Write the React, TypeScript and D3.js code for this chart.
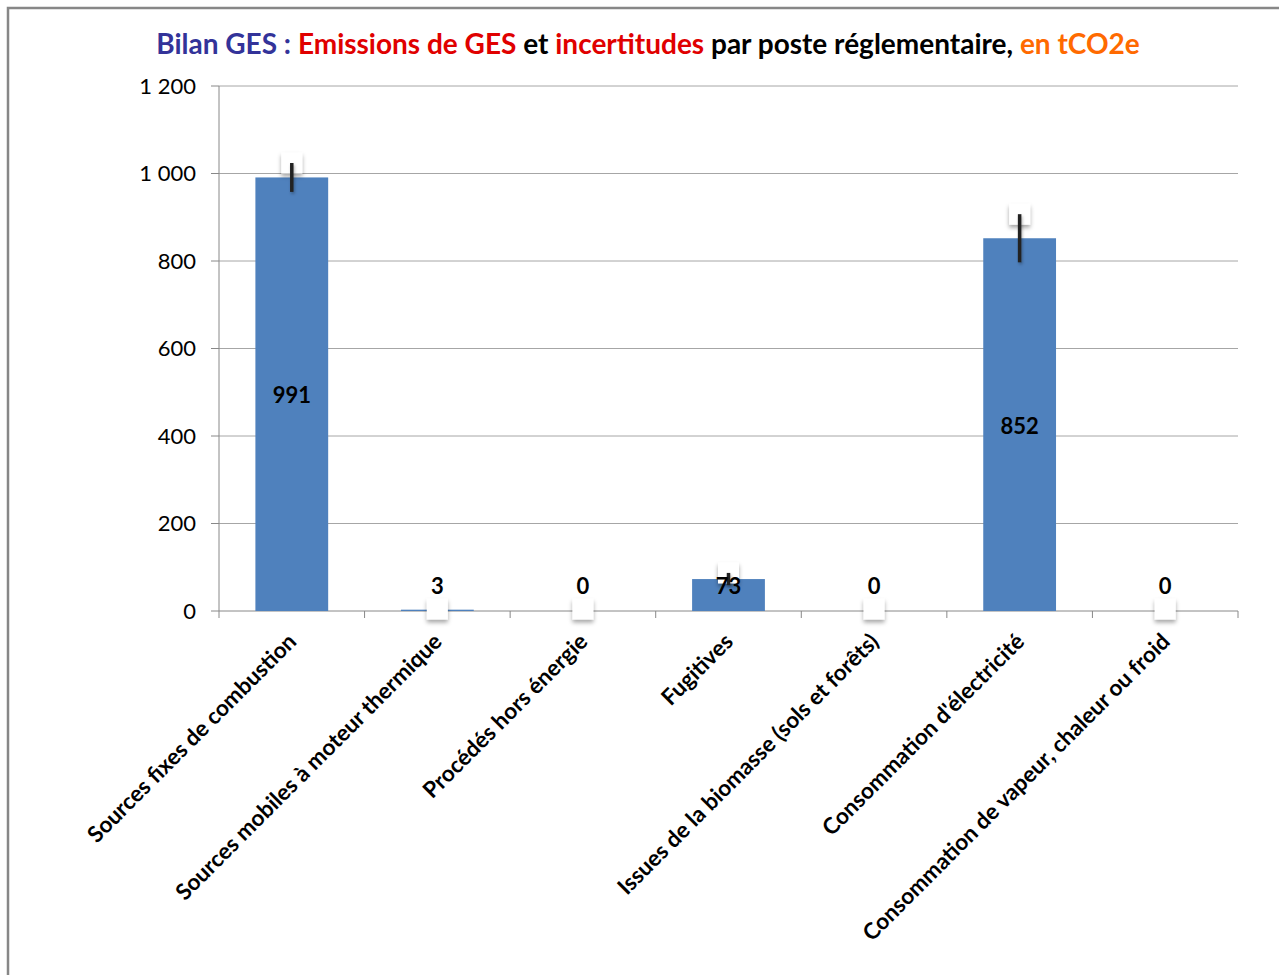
import React from 'react';
import * as d3 from 'd3';

const categories = [
  "Sources fixes de combustion",
  "Sources mobiles à moteur thermique",
  "Procédés hors énergie",
  "Fugitives",
  "Issues de la biomasse (sols et forêts)",
  "Consommation d'électricité",
  "Consommation de vapeur, chaleur ou froid",
];
const values = [991, 3, 0, 73, 0, 852, 0];
const uncertainties = [33, 0, 0, 14, 0, 55, 0];
const yTicks = [0, 200, 400, 600, 800, 1000, 1200];
const titleParts = [
  { text: "Bilan GES : ", color: "#333399" },
  { text: "Emissions de GES ", color: "#E00000" },
  { text: "et ", color: "#000000" },
  { text: "incertitudes ", color: "#E00000" },
  { text: "par poste réglementaire, ", color: "#000000" },
  { text: "en tCO2e", color: "#FF6A00" },
];

const W = 1279;
const H = 975;
const left = 219, right = 1238, top = 86, bottom = 611;
const FONT = "Lato, 'Open Sans', sans-serif";

const fr = d3.formatLocale({ decimal: ",", thousands: "\u00a0", grouping: [3], currency: ["", "€"] });
const fmt = fr.format(",d");

export default function App() {
  const x = d3.scaleBand<string>().domain(categories).range([left, right]).paddingInner(0.5).paddingOuter(0.25);
  const xb = d3.scaleBand<string>().domain(categories).range([left, right]);
  const y = d3.scaleLinear().domain([0, 1200]).range([bottom, top]);
  const boundaries = d3.range(categories.length + 1).map(i => left + i * xb.step());

  return (
    <svg width={W} height={H} style={{ position: 'absolute', left: 0, top: 0, background: '#fff' }} fontFamily={FONT}>
      <defs>
        <filter id="sh" x="-50%" y="-50%" width="200%" height="200%">
          <feDropShadow dx="0" dy="3" stdDeviation="2" floodColor="#000" floodOpacity="0.35" />
        </filter>
        <filter id="sh2" x="-300%" y="-20%" width="700%" height="140%">
          <feDropShadow dx="1" dy="2" stdDeviation="1.5" floodColor="#000" floodOpacity="0.3" />
        </filter>
      </defs>
      <rect x={8} y={8} width={1400} height={1100} fill="#fff" stroke="#878787" strokeWidth={2.5} />

      {/* title */}
      <text x={648} y={54} textAnchor="middle" fontSize={28} fontWeight="bold">
        {titleParts.map((p, i) => (
          <tspan key={i} fill={p.color}>{p.text}</tspan>
        ))}
      </text>

      {/* gridlines */}
      {yTicks.filter(t => t > 0).map(t => (
        <line key={t} x1={left} x2={right} y1={y(t)} y2={y(t)} stroke="#a6a6a6" strokeWidth={1} />
      ))}
      {/* y axis */}
      <line x1={left} x2={left} y1={top} y2={bottom} stroke="#888" strokeWidth={1} />
      {yTicks.map(t => (
        <g key={t}>
          <line x1={left - 8} x2={left} y1={y(t)} y2={y(t)} stroke="#888" />
          <text x={196} y={y(t)} dy="0.35em" textAnchor="end" fontSize={22} fill="#000">{fmt(t)}</text>
        </g>
      ))}
      {/* x axis */}
      <line x1={left} x2={right} y1={bottom} y2={bottom} stroke="#888" strokeWidth={1} />
      {boundaries.map((b, i) => (
        <line key={i} x1={b} x2={b} y1={bottom} y2={bottom + 7} stroke="#888" />
      ))}

      {/* bars */}
      {categories.map((c, i) => (
        <rect key={c} x={x(c)!} width={x.bandwidth()} y={y(values[i])} height={y(0) - y(values[i])} fill="#4F81BD" />
      ))}

      {/* label boxes */}
      {categories.map((c, i) => {
        const cx = x(c)! + x.bandwidth() / 2;
        const cy = Math.min(y(values[i] + uncertainties[i]), y(0) - 2);
        return <rect key={c} x={cx - 10.5} y={cy - 10.5} width={21} height={21} fill="#fff" filter="url(#sh)" />;
      })}

      {/* error bars */}
      {categories.map((c, i) => {
        if (!uncertainties[i]) return null;
        const cx = x(c)! + x.bandwidth() / 2;
        const y1 = y(values[i] + uncertainties[i]);
        const y2 = y(values[i] - uncertainties[i]);
        return (
          <rect key={c} x={cx - 1.75} width={3.5} y={y1} height={y2 - y1} fill="#222" filter="url(#sh2)" />
        );
      })}

      {/* value labels */}
      {categories.map((c, i) => {
        const cx = x(c)! + x.bandwidth() / 2;
        const mid = (y(values[i]) + y(0)) / 2;
        const ly = Math.min(mid + 1.5, y(0) - 25);
        return (
          <text key={c} x={cx} y={ly} dy="0.35em" textAnchor="middle" fontSize={22} fontWeight="bold" fill="#000">
            {values[i]}
          </text>
        );
      })}

      {/* category labels */}
      {categories.map(c => {
        const cx = x(c)! + x.bandwidth() / 2 + 6;
        const cy = bottom + 32;
        return (
          <text key={c} transform={`translate(${cx},${cy}) rotate(-45)`} textAnchor="end" fontSize={22.5} fontWeight="bold" fill="#000">
            {c}
          </text>
        );
      })}
    </svg>
  );
}
